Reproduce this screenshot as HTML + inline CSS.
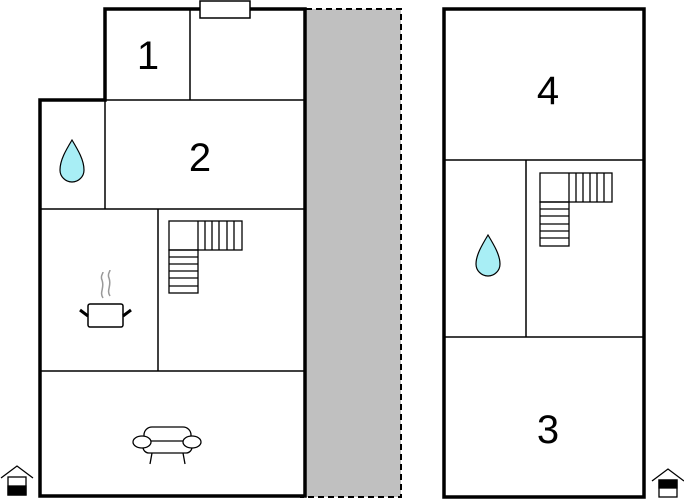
<!DOCTYPE html><html><head><style>html,body{margin:0;padding:0;background:#fff;}svg{display:block}</style></head><body>
<svg width="684" height="500" viewBox="0 0 684 500" xmlns="http://www.w3.org/2000/svg" font-family="Liberation Sans, sans-serif">
<rect x="306" y="9" width="95" height="488" fill="#c0c0c0"/>
<path d="M306 9 H401 V497 H300" fill="none" stroke="#000" stroke-width="2" stroke-dasharray="6,4"/>
<g stroke="#000" stroke-width="1.5" fill="none">
<line x1="190" y1="9" x2="190" y2="100"/>
<line x1="105" y1="100" x2="305" y2="100"/>
<line x1="105" y1="100" x2="105" y2="209"/>
<line x1="40" y1="209" x2="305" y2="209"/>
<line x1="158" y1="209" x2="158" y2="371"/>
<line x1="40" y1="371" x2="305" y2="371"/>
<line x1="444" y1="160" x2="644" y2="160"/>
<line x1="526" y1="160" x2="526" y2="337"/>
<line x1="444" y1="337" x2="644" y2="337"/>
</g>
<path d="M105 100 V9 H305 V496 H40 V100 Z" fill="none" stroke="#000" stroke-width="3.5"/>
<rect x="444" y="9" width="200" height="488" fill="none" stroke="#000" stroke-width="3.5"/>
<rect x="200" y="1" width="50" height="17" fill="#fff" stroke="#000" stroke-width="1.5"/>
<g font-size="40" text-anchor="middle" fill="#000">
<text x="148" y="69">1</text><text x="200" y="171">2</text>
<text x="548" y="104">4</text><text x="548" y="443">3</text>
</g>
<path d="M72 140 C66 150 60 160 60 170 A12 12 0 0 0 84 170 C84 160 78 150 72 140 Z" fill="#a8eef5" stroke="#000" stroke-width="1.2"/>
<path d="M488 235 C482 245 476 255 476 264 A12 12 0 0 0 500 264 C500 255 494 245 488 235 Z" fill="#a8eef5" stroke="#000" stroke-width="1.2"/>
<g stroke="#000" stroke-width="1.3" fill="none">
<rect x="169" y="221" width="73" height="29"/><line x1="198" y1="221" x2="198" y2="250"/>
<path d="M205 221V250M212 221V250M219 221V250M227 221V250M234 221V250"/>
<rect x="169" y="250" width="29" height="43"/>
<path d="M169 257H198M169 264H198M169 271H198M169 278H198M169 286H198"/>
<rect x="540" y="173" width="72" height="29"/><line x1="569" y1="173" x2="569" y2="202"/>
<path d="M576 173V202M583 173V202M590 173V202M597 173V202M604 173V202"/>
<rect x="540" y="202" width="29" height="44"/>
<path d="M540 209H569M540 216H569M540 224H569M540 231H569M540 238H569"/>
</g>
<g fill="none">
<path d="M103 298 C99 292 105 288 102 280 C100 276 103 274 103 272M110 296 C106 290 112 286 109 278 C107 274 110 272 110 270" stroke="#999" stroke-width="1.5"/>
<rect x="88" y="304" width="35" height="23" rx="2" fill="#fff" stroke="#000" stroke-width="1.5"/>
<path d="M80 310 L88 316M131 310 L123 316" stroke="#000" stroke-width="3"/>
</g>
<g stroke="#000" stroke-width="1.3" fill="#fff">
<rect x="144" y="427" width="47" height="18" rx="8"/>
<rect x="143" y="441" width="49" height="12" rx="6"/>
<ellipse cx="142" cy="442" rx="9" ry="6"/><ellipse cx="192" cy="442" rx="9" ry="6"/>
<path d="M152 453 L150 464M183 453 L185 464" fill="none"/>
</g>
<g stroke="#000" stroke-width="1.3" fill="none">
<path d="M1 478 L17 466 L33 478"/><rect x="8" y="477" width="18" height="18" fill="#fff"/>
<rect x="8" y="486" width="18" height="9" fill="#000"/>
<path d="M652 481 L668 469 L684 481"/><rect x="659" y="480" width="18" height="17" fill="#fff"/>
<rect x="659" y="480" width="18" height="8" fill="#000"/>
</g>
</svg>
</body></html>
